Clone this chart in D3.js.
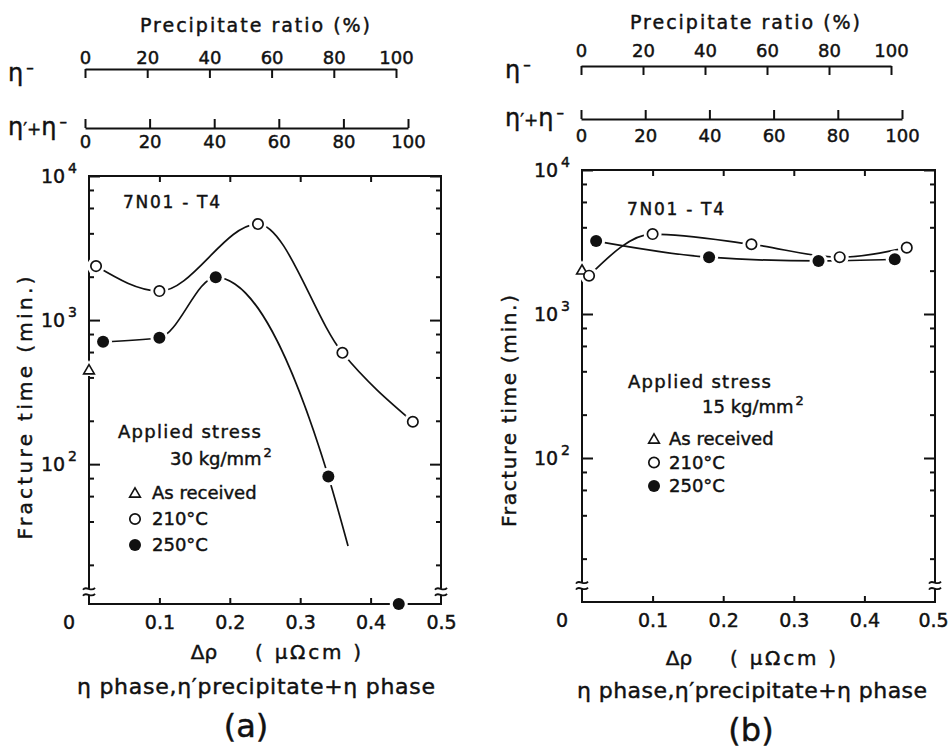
<!DOCTYPE html>
<html>
<head>
<meta charset="utf-8">
<script src="https://cdn.jsdelivr.net/npm/d3@7"></script>
<style>
  body { margin: 0; background: #fff; }
  text { font-family: "DejaVu Sans", sans-serif; fill: #111; stroke: #111; stroke-width: 0.45px; }
</style>
</head>
<body>
<svg id="chart" width="948" height="749"></svg>
<script>
// values
var dRhoTicks = [0.1, 0.2, 0.3, 0.4, 0.5];
var ratioTicks = [0, 20, 40, 60, 80, 100];
var majorTimes = [100, 1000, 10000];
var minorTimes = [20, 40, 60, 80, 200, 400, 600, 800, 2000, 4000, 6000, 8000];
var breakTime = 13;

// (a) applied stress 30 kg/mm2
var dRhoA210 = [0.01, 0.10, 0.24, 0.36, 0.46];
var timeA210 = [2370, 1590, 4640, 593, 197];
var dRhoA250 = [0.02, 0.10, 0.18, 0.34, 0.44];
var timeA250 = [707, 754, 1980, 82, 10.7];
var tailA250 = [0.368, 27];       // where the 250C curve stops
var asRecA = [0, 445];

// (b) applied stress 15 kg/mm2
var dRhoB210 = [0.01, 0.10, 0.24, 0.365, 0.46];
var timeB210 = [1845, 3590, 3050, 2480, 2890];
var dRhoB250 = [0.02, 0.18, 0.335, 0.443];
var timeB250 = [3210, 2480, 2335, 2400];
var asRecB = [0, 1990];

var svg = d3.select("#chart");
svg.append("rect").attr("width", 948).attr("height", 749).attr("fill", "#fff");

var FONT = "DejaVu Sans, sans-serif";
var INK = "#111";

function styleAxis(sel, size) {
    sel.attr("font-family", FONT).attr("font-size", size);
    sel.selectAll("line, path").attr("stroke", INK).attr("stroke-width", 2);
    sel.selectAll("text").attr("fill", INK);
}

function etaMinus(g, xPos, yPos, prime) {
    var t = g.append("text").attr("x", xPos).attr("y", yPos).style("font-size", "24px");
    if (prime) {
        t.append("tspan").text("η");
        t.append("tspan").text("′+").style("font-size", "17px");
    }
    t.append("tspan").text("η");
    t.append("tspan").text("–").attr("dx", 3).attr("dy", -8).style("font-size", "15px");
}

function drawPanel(p) {
    var g = svg.append("g");

    var x = d3.scaleLinear().domain([0, 0.5]).range(p.xRange);
    var y = d3.scaleLog().domain([p.yMin, 10000]).range(p.yRange);
    var x0 = x(0), x1 = x(0.5), yTop = y(10000), yBot = y(p.yMin);

    // precipitate ratio scales on top
    var r1 = d3.scaleLinear().domain([0, 100]).range(p.r1Range);
    var r2 = d3.scaleLinear().domain([0, 100]).range(p.r2Range);

    g.append("text").text("Precipitate ratio (%)")
        .attr("x", p.titleX).attr("y", p.titleY).attr("textLength", 230)
        .attr("text-anchor", "middle").style("font-size", "19px");

    var ax1 = g.append("g").attr("transform", `translate(0,${p.r1Y})`)
        .call(d3.axisTop(r1).tickValues(ratioTicks).tickSizeInner(-9).tickSizeOuter(0).tickPadding(p.r1Pad));
    styleAxis(ax1, 18);
    var ax2 = g.append("g").attr("transform", `translate(0,${p.r2Y})`)
        .call(d3.axisBottom(r2).tickValues(ratioTicks).tickSizeInner(-9).tickSizeOuter(0).tickPadding(p.r2Pad));
    styleAxis(ax2, 18);

    etaMinus(g, p.etaX, p.r1Y + 12, false);
    etaMinus(g, p.etaX, p.r2Y + 7, true);

    // frame ticks
    var bottom = g.append("g").attr("transform", `translate(0,${yBot})`)
        .call(d3.axisBottom(x).tickValues(dRhoTicks).tickSizeInner(-6).tickSizeOuter(0)
              .tickPadding(12).tickFormat(d3.format(".1f")));
    styleAxis(bottom, 19);
    bottom.select(".domain").remove();
    bottom.selectAll(".tick").filter(d => d === 0.5).select("line").remove();
    bottom.selectAll(".tick").filter(d => d === 0.5).select("text").attr("dx", p.lastDx);

    var top = g.append("g").attr("transform", `translate(0,${yTop})`)
        .call(d3.axisTop(x).tickValues(dRhoTicks.slice(0, 4)).tickSizeInner(-6).tickFormat(""));
    styleAxis(top, 10);
    top.select(".domain").remove();

    [[majorTimes, -11], [minorTimes, -5]].forEach(function (set) {
        var l = g.append("g").attr("transform", `translate(${x0},0)`)
            .call(d3.axisLeft(y).tickValues(set[0]).tickSizeInner(set[1]).tickFormat(""));
        styleAxis(l, 10);
        l.select(".domain").remove();
        var r = g.append("g").attr("transform", `translate(${x1},0)`)
            .call(d3.axisRight(y).tickValues(set[0]).tickSizeInner(set[1]).tickFormat(""));
        styleAxis(r, 10);
        r.select(".domain").remove();
    });

    g.append("rect")
        .attr("x", x0).attr("y", yTop)
        .attr("width", x1 - x0).attr("height", yBot - yTop)
        .attr("fill", "none").attr("stroke", INK).attr("stroke-width", 2);

    // zero label sits well left of the axis
    g.append("text").text("0")
        .attr("x", x0 - 20).attr("y", yBot + 12).attr("dy", "0.71em")
        .attr("text-anchor", "middle").style("font-size", "19px");

    // decade labels 10^n
    var yl = g.selectAll(".ylab").data(majorTimes).enter().append("text")
        .attr("class", "ylab")
        .attr("x", x0 - 12).attr("y", d => y(d) + 7)
        .attr("text-anchor", "end").style("font-size", "19px");
    yl.append("tspan").text("10");
    yl.append("tspan").text(d => Math.round(Math.log10(d)))
        .attr("dx", 3).attr("dy", -10).style("font-size", "14px");

    // axis breaks
    [x0, x1].forEach(function (bx) {
        var by = y(breakTime);
        g.append("rect").attr("x", bx - 3).attr("y", by - 3).attr("width", 6).attr("height", 6).attr("fill", "#fff");
        [-3, 3].forEach(function (o) {
            g.append("path")
                .attr("d", `M${bx - 6},${by + o + 1} C${bx - 3},${by + o - 4} ${bx + 2},${by + o + 4} ${bx + 6},${by + o - 1}`)
                .attr("fill", "none").attr("stroke", INK).attr("stroke-width", 1.8);
        });
    });

    // curves
    var line = d3.line().x(d => x(d[0])).y(d => y(d[1])).curve(d3.curveMonotoneX);
    p.curves.forEach(function (c) {
        g.append("path").attr("d", line(c)).attr("fill", "none")
            .attr("stroke", INK).attr("stroke-width", 1.7);
    });

    // white halos give the gaps around the symbols
    var all = p.open.concat(p.filled);
    g.selectAll(".halo").data(all).enter().append("circle")
        .attr("cx", d => x(d[0])).attr("cy", d => y(d[1])).attr("r", 9).attr("fill", "#fff");

    var tri = d3.symbol().type(d3.symbolTriangle).size(50);
    g.append("path").attr("d", d3.symbol().type(d3.symbolTriangle).size(150)())
        .attr("transform", `translate(${x(p.asRec[0])},${y(p.asRec[1])})`).attr("fill", "#fff");
    g.append("path").attr("d", tri())
        .attr("transform", `translate(${x(p.asRec[0])},${y(p.asRec[1])})`)
        .attr("fill", "#fff").attr("stroke", INK).attr("stroke-width", 1.6);

    g.selectAll(".open").data(p.open).enter().append("circle")
        .attr("cx", d => x(d[0])).attr("cy", d => y(d[1])).attr("r", 5.2)
        .attr("fill", "#fff").attr("stroke", INK).attr("stroke-width", 1.7);
    g.selectAll(".filled").data(p.filled).enter().append("circle")
        .attr("cx", d => x(d[0])).attr("cy", d => y(d[1])).attr("r", 6)
        .attr("fill", INK);

    // in-plot notes
    g.append("text").text("7N01 - T4").attr("x", p.alloy[0]).attr("y", p.alloy[1])
        .attr("textLength", p.alloy[2]).style("font-size", "17px");
    g.append("text").text("Applied  stress").attr("x", p.stress[0]).attr("y", p.stress[1])
        .attr("textLength", 143).style("font-size", "18px");
    var st = g.append("text").attr("x", p.load[0]).attr("y", p.load[1]).style("font-size", "18px");
    st.append("tspan").text(p.loadText + " kg/mm");
    st.append("tspan").text("2").attr("dx", 2).attr("dy", -8).style("font-size", "13px");

    // legend
    var lx = p.legend[0], ly = p.legend[1], step = p.legend[2], tx = p.legend[3];
    g.append("path").attr("d", tri()).attr("transform", `translate(${lx},${ly - 5})`)
        .attr("fill", "#fff").attr("stroke", INK).attr("stroke-width", 1.6);
    g.append("circle").attr("cx", lx).attr("cy", ly + step - 6).attr("r", 5.2)
        .attr("fill", "#fff").attr("stroke", INK).attr("stroke-width", 1.7);
    g.append("circle").attr("cx", lx).attr("cy", ly + 2 * step - 6).attr("r", 6).attr("fill", INK);
    g.append("text").text("As  received").attr("x", tx).attr("y", ly).style("font-size", "18px");
    g.append("text").text("210°C").attr("x", tx).attr("y", ly + step).style("font-size", "18px");
    g.append("text").text("250°C").attr("x", tx).attr("y", ly + 2 * step).style("font-size", "18px");

    // axis titles
    g.append("text").text("Fracture   time   (min.)")
        .attr("transform", `translate(${p.yTitle[0]},${p.yTitle[1]}) rotate(-90)`)
        .attr("text-anchor", "middle").attr("textLength", p.yTitle[2]).style("font-size", "20px");
    g.append("text").text("Δρ")
        .attr("x", p.xTitle[0] - 70).attr("y", p.xTitle[1])
        .attr("text-anchor", "middle").style("font-size", "20px");
    g.append("text").text("( μΩcm )")
        .attr("x", p.xTitle[0] + 34).attr("y", p.xTitle[1]).attr("textLength", 106)
        .attr("text-anchor", "middle").style("font-size", "20px");
    g.append("text").text("η phase,η′precipitate+η phase")
        .attr("x", p.phase[0]).attr("y", p.phase[1]).attr("textLength", p.phase[2])
        .attr("text-anchor", "middle").style("font-size", "22px");
    g.append("text").text(p.tag)
        .attr("x", p.tagPos[0]).attr("y", p.tagPos[1])
        .attr("text-anchor", "middle").style("font-size", "32px");
}

var a210 = d3.zip(dRhoA210, timeA210);
var a250 = d3.zip(dRhoA250, timeA250);
var b210 = d3.zip(dRhoB210, timeB210);
var b250 = d3.zip(dRhoB250, timeB250);

drawPanel({
    xRange: [89, 441], yMin: 10.7, yRange: [604, 176],
    r1Range: [85, 396], r1Y: 69, r1Pad: 5,
    r2Range: [85, 408], r2Y: 128, r2Pad: 7,
    titleX: 255, titleY: 32, etaX: 8, lastDx: 0,
    open: a210, filled: a250, asRec: asRecA,
    curves: [a210, a250.slice(0, 4).concat([tailA250])],
    alloy: [123, 208, 97], stress: [118, 438], load: [170, 465], loadText: "30",
    legend: [135, 499, 26, 152],
    yTitle: [32, 408, 263], xTitle: [274, 659], phase: [256, 694, 358],
    tag: "(a)", tagPos: [246, 737]
});

drawPanel({
    xRange: [582, 935], yMin: 10, yRange: [602, 170],
    r1Range: [581, 891], r1Y: 66, r1Pad: 9,
    r2Range: [581, 902], r2Y: 119, r2Pad: 10,
    titleX: 745, titleY: 29, etaX: 505, lastDx: -2,
    open: b210, filled: b250, asRec: asRecB,
    curves: [b210, b250],
    alloy: [627, 215, 97], stress: [628, 388], load: [702, 413], loadText: "15",
    legend: [654, 445, 23.5, 669],
    yTitle: [516, 411, 232], xTitle: [749, 665], phase: [752, 698, 350],
    tag: "(b)", tagPos: [751, 741]
});
</script>
</body>
</html>
